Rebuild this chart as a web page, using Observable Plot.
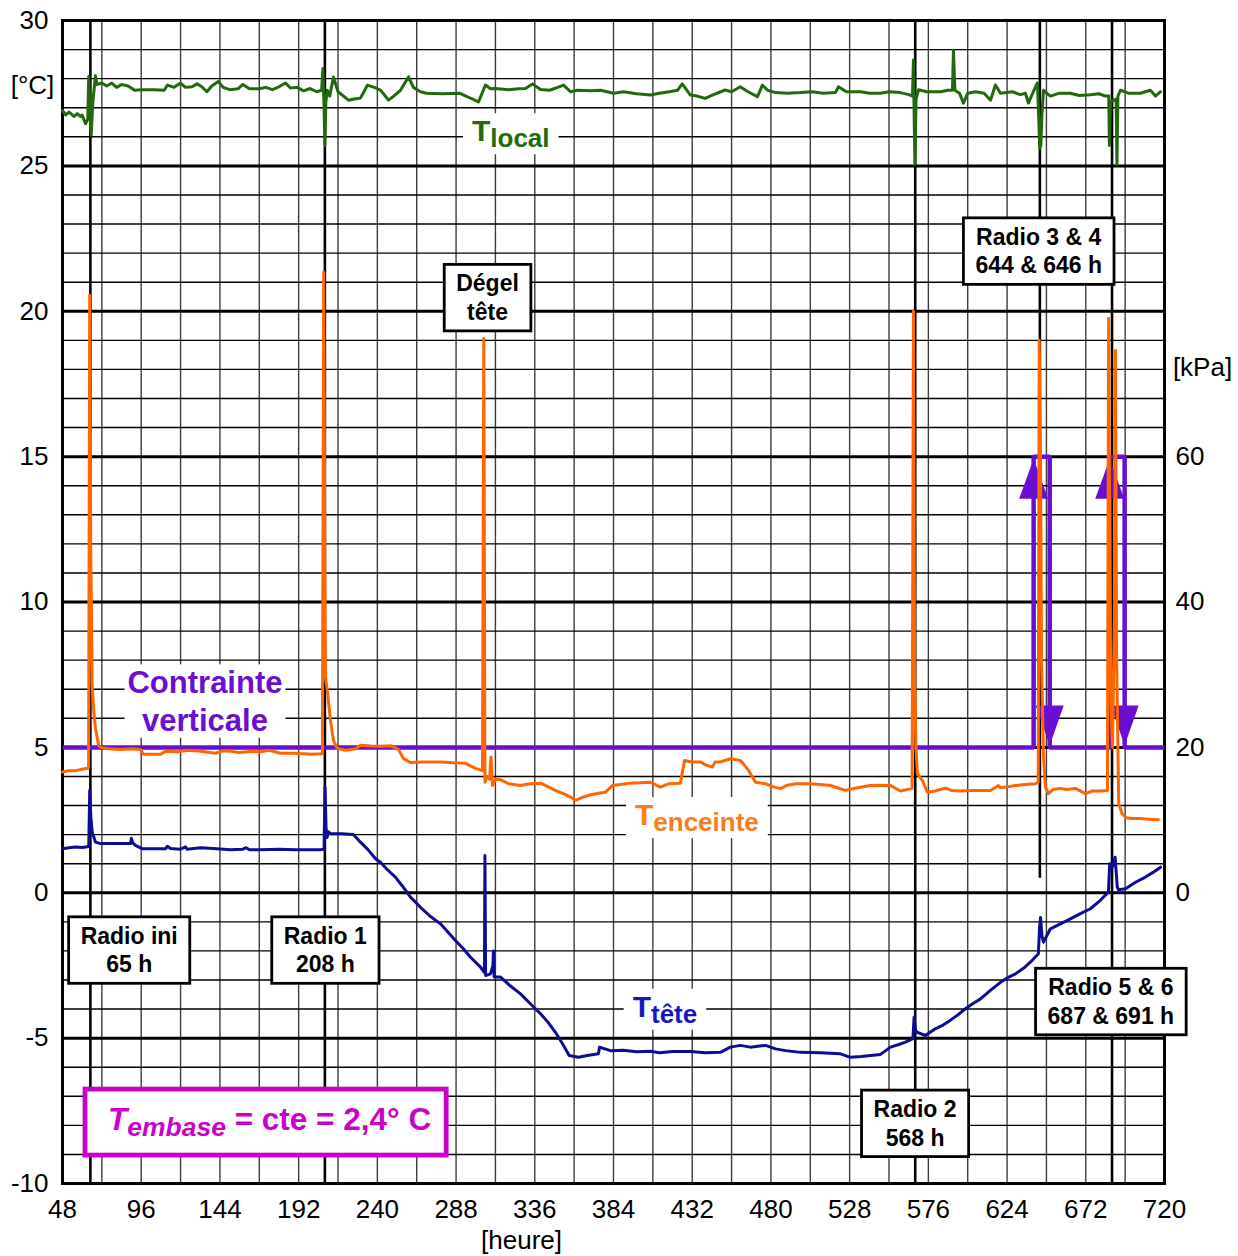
<!DOCTYPE html>
<html><head><meta charset="utf-8">
<script src="https://cdn.jsdelivr.net/npm/d3@7"></script>
<script src="https://cdn.jsdelivr.net/npm/@observablehq/plot@0.6"></script>
<style>html,body{margin:0;padding:0;background:#fff;overflow:hidden}</style>
</head><body><div id="chart"></div>
<script>
// ---------- DATA ----------
const xTicks = [48, 96, 144, 192, 240, 288, 336, 384, 432, 480, 528, 576, 624, 672, 720];
const yTicks = [-10, -5, 0, 5, 10, 15, 20, 25, 30];
const kPaTicks = [0, 20, 40, 60];

const eventHours = [65, 208, 568, 644, 688];
const eventLow = [-10, -10, -10, 0.5, -10];

const contrainteHours = [48, 640.2, 640.2, 650, 650, 686.6, 686.6, 695.7, 695.7, 720];
const contrainteKPa = [20, 20, 60, 60, 20, 20, 60, 60, 20, 20];
const arrowUpHours = [640.2, 686.6];
const arrowUpKPa = [60, 60];
const arrowDownHours = [650, 695.7];
const arrowDownKPa = [20, 20];

const tLocal = [[48,26.9],[50,26.75],[52,26.85],[55,26.7],[57,26.8],[59,26.7],[60,26.75],[62,26.45],[63.4,26.6],[64.0,28.07],[64.6,27.0],[65.5,26.06],[66.5,27.2],[68.1,28.1],[69,27.8],[72,27.85],[75,27.75],[78,27.85],[81,27.7],[84,27.8],[88,27.75],[92,27.6],[96,27.62],[104,27.62],[110,27.6],[112,27.78],[116,27.7],[120,27.85],[123,27.7],[127,27.72],[130,27.82],[133,27.72],[136,27.55],[139,27.75],[143,27.9],[146,27.7],[150,27.62],[155,27.65],[158,27.8],[162,27.65],[168,27.65],[172,27.7],[176,27.62],[180,27.72],[184,27.85],[187,27.68],[191,27.7],[195,27.58],[199,27.66],[203,27.55],[206,27.6],[206.8,28.35],[207.5,27.0],[208,25.7],[208.6,27.2],[209.5,27.6],[211,27.4],[213.2,28.06],[216,27.55],[222.4,27.26],[226,27.3],[229.7,27.33],[234,27.78],[238.9,27.68],[242,27.6],[246.8,27.26],[250,27.4],[254.1,27.6],[259,28.06],[262,27.7],[266.3,27.55],[270,27.5],[280,27.48],[290,27.5],[294,27.4],[298,27.3],[301.7,27.2],[305.9,27.78],[309,27.65],[312,27.66],[320,27.62],[326,27.65],[330.3,27.66],[334.6,27.82],[339.5,27.63],[345,27.6],[350,27.7],[353.5,27.78],[357.8,27.55],[362,27.6],[370,27.58],[376,27.6],[384,27.5],[390,27.55],[398,27.48],[406.5,27.44],[412,27.5],[418,27.55],[423,27.6],[425.9,27.82],[430.8,27.44],[435,27.4],[439.9,27.32],[445,27.45],[452.1,27.61],[456,27.55],[461.3,27.72],[466,27.55],[471.8,27.38],[474.8,27.78],[478,27.6],[482.8,27.52],[490,27.5],[498,27.52],[505,27.55],[512,27.5],[519.3,27.52],[521.2,27.72],[526,27.55],[534.6,27.55],[540,27.5],[546.8,27.5],[552,27.55],[559,27.52],[564,27.45],[566.3,27.4],[566.9,28.64],[567.4,26.5],[567.8,25.06],[568.5,27.3],[570,27.62],[575,27.55],[583.4,27.55],[588,27.6],[590.7,27.6],[591.3,28.98],[592.2,27.6],[595,27.5],[597.4,27.16],[600,27.5],[604.7,27.55],[610,27.5],[613.9,27.26],[616.9,27.78],[620,27.5],[627.3,27.55],[632,27.45],[635.2,27.5],[637,27.16],[640,27.55],[642.5,27.85],[643.4,26.5],[643.9,25.61],[644.6,25.7],[645.3,26.8],[646.2,27.6],[650.4,27.4],[656,27.5],[662.6,27.5],[668,27.42],[674.8,27.45],[680,27.48],[684,27.4],[686.0,27.4],[686.4,25.7],[687.0,27.2],[690.5,27.3],[691.0,25.05],[691.6,27.4],[693.1,27.6],[698,27.5],[705.3,27.5],[711.4,27.6],[714.5,27.4],[717.6,27.55]];

const tEnceinte = [[48,4.15],[52,4.2],[56,4.2],[60,4.25],[63.1,4.28],[63.9,4.3],[64.6,20.55],[65.2,12.0],[66.1,7.13],[67,6.3],[68.1,5.65],[70.1,5.07],[71.2,5.0],[76,4.95],[83.4,4.93],[90,4.95],[95.6,4.93],[97.4,4.76],[104,4.76],[107.8,4.76],[110.8,4.87],[118,4.85],[125,4.9],[132.1,4.87],[138,4.82],[141.3,4.8],[146,4.88],[150.4,4.87],[156,4.82],[162,4.86],[168.7,4.85],[174,4.9],[180.9,4.8],[188.9,4.8],[195,4.78],[200,4.76],[205.3,4.78],[206.5,4.8],[207.3,21.35],[208.1,9.5],[208.4,7.4],[209.6,6.9],[211.4,5.93],[213.2,5.24],[215.5,4.97],[220.6,4.9],[226.7,4.95],[229.7,5.07],[236,5.05],[241.9,5.04],[248,5.06],[252.9,4.93],[255.9,4.62],[260.2,4.48],[268,4.5],[278.5,4.5],[286,4.47],[293.7,4.45],[299.8,4.28],[304.1,4.2],[304.9,19.06],[305.6,3.8],[307,4.0],[308.4,3.9],[309.3,4.67],[310.2,3.69],[312,3.9],[315.1,3.89],[320,3.75],[327.3,3.69],[333,3.75],[339.5,3.77],[344,3.65],[348.6,3.52],[353,3.42],[357.8,3.29],[360.8,3.18],[365,3.28],[370,3.37],[375,3.42],[379.1,3.46],[383.4,3.69],[388,3.72],[394.3,3.77],[400,3.78],[406.5,3.8],[412.6,3.63],[418,3.75],[424.8,3.77],[427.3,4.55],[432,4.5],[437,4.5],[440,4.4],[444.3,4.32],[446,4.5],[449.2,4.5],[452,4.55],[455.3,4.61],[458,4.58],[461.3,4.55],[463,4.45],[466.3,4.21],[470.6,3.8],[476.7,3.75],[481,3.65],[485.8,3.58],[490,3.7],[495,3.75],[504.1,3.75],[510,3.72],[516.3,3.69],[520,3.62],[525.4,3.52],[532,3.6],[540.7,3.69],[546,3.7],[552.9,3.69],[559,3.5],[566.1,3.59],[566.9,20.0],[567.6,8.0],[568.3,5.2],[569.3,4.1],[572.4,3.86],[575.4,3.46],[580,3.5],[586.4,3.6],[590,3.52],[595.6,3.5],[603,3.52],[613.9,3.52],[618.7,3.69],[620,3.61],[625,3.65],[629.1,3.69],[635,3.72],[641.3,3.75],[643,3.8],[643.6,19.0],[644.4,15.0],[645,8.0],[646.2,4.67],[647.4,3.63],[649.2,3.41],[652,3.55],[656.5,3.59],[660,3.55],[665.7,3.59],[671.8,3.41],[676,3.5],[680.9,3.5],[685.2,3.52],[685.9,19.75],[686.6,12.0],[687.3,6.5],[688.3,5.0],[689.6,10.0],[690.1,18.65],[690.8,8.0],[692.1,3.06],[694.1,2.72],[696.8,2.58],[700,2.55],[705.3,2.55],[710,2.53],[716.3,2.51]];

const tTete = [[48,1.51],[52,1.55],[56,1.57],[60,1.56],[64,1.59],[64.6,3.52],[65.3,2.6],[66.1,2.09],[68.1,1.74],[71.2,1.69],[80,1.69],[89.5,1.69],[90,1.87],[90.8,1.72],[92.5,1.63],[96.8,1.51],[104,1.51],[110.8,1.51],[112,1.6],[113.9,1.52],[120,1.5],[123,1.58],[124,1.5],[132.1,1.55],[140,1.52],[150.4,1.48],[158,1.5],[160,1.55],[162,1.48],[168.7,1.48],[180,1.5],[190,1.48],[205.3,1.48],[207.5,1.5],[208.1,3.63],[208.7,2.26],[209.3,1.9],[210.2,2.1],[211.4,2.03],[218,2.03],[225.4,2.0],[229.7,1.74],[234,1.5],[238.9,1.17],[241.9,1.05],[246,0.8],[251,0.54],[255,0.25],[260.2,-0.15],[266.3,-0.5],[272,-0.8],[278.5,-1.07],[283,-1.35],[287.6,-1.64],[292,-1.9],[296.8,-2.22],[302.9,-2.56],[305.3,-2.75],[305.6,1.28],[306,-2.85],[309,-2.79],[310.5,-2.5],[310.8,-2.0],[311.2,-2.9],[315.1,-2.9],[321,-3.2],[327.3,-3.48],[333,-3.8],[339.5,-4.16],[344,-4.45],[348.6,-4.8],[353,-5.2],[357,-5.6],[362.6,-5.66],[368,-5.6],[374.8,-5.54],[375.5,-5.31],[382.1,-5.43],[390,-5.42],[398,-5.47],[406.5,-5.45],[412,-5.5],[420,-5.46],[430.8,-5.46],[440,-5.5],[449.2,-5.49],[455.3,-5.31],[461.3,-5.25],[467.5,-5.31],[472,-5.28],[476.7,-5.25],[482.8,-5.37],[488.9,-5.43],[498,-5.49],[510,-5.5],[522.4,-5.54],[528.5,-5.66],[535,-5.63],[546.8,-5.56],[552.9,-5.31],[558,-5.22],[562,-5.14],[566.6,-5.02],[567.3,-4.28],[568.2,-4.74],[569.3,-4.8],[574.2,-4.91],[580.2,-4.68],[585,-4.55],[589.3,-4.39],[594,-4.2],[598.6,-3.99],[603,-3.82],[607.8,-3.65],[614,-3.35],[620,-3.08],[625,-2.9],[629.1,-2.79],[634,-2.6],[638.2,-2.39],[643.1,-2.1],[643.8,-1.2],[644.4,-0.85],[645.3,-1.5],[646.2,-1.7],[650.4,-1.24],[656.5,-1.07],[662.6,-0.9],[668.7,-0.72],[674.8,-0.55],[680.9,-0.26],[685.8,0.02],[686.6,1.0],[688.2,0.88],[689.9,1.22],[691.2,0.19],[692,0.1],[696.2,0.14],[702.3,0.36],[708.4,0.54],[713,0.7],[717.6,0.88]];

const seriesNames = [["T", "local"], ["T", "enceinte"], ["T", "tête"]];
const contrainteText = ["Contrainte", "verticale"];
const embaseText = ["T", "embase", " = cte = 2,4° C"];
const boxTexts = [["Radio ini", "65 h"], ["Radio 1", "208 h"], ["Dégel", "tête"], ["Radio 3 & 4", "644 & 646 h"], ["Radio 5 & 6", "687 & 691 h"], ["Radio 2", "568 h"]];
const axisTitles = ["[°C]", "[kPa]", "[heure]"];

// ---------- LAYOUT / STYLE ----------
const C = {green: "#22690e", orange: "#ff6600", orangeText: "#f97d1c", blue: "#0c0c96", blueText: "#1717c0", purple: "#6a0fd2", magenta: "#cc00cc"};
const seriesLabelPos = [{h: 298, t: 25.83, color: C.green}, {h: 397.4, t: 2.31, color: C.orangeText}, {h: 396, t: -4.28, color: C.blueText}];
const contraintePos = {h: 135.2, t: 6.84};
const embasePos = {h: 76.05, t: -8.18};
const boxPos = [{h: 88.98, t: -1.98}, {h: 208.56, t: -1.98}, {h: 307.5, t: 20.46}, {h: 643.6, t: 22.06}, {h: 687.6, t: -3.75}, {h: 568.2, t: -7.94}];

const upSymbol = {draw(ctx) { ctx.moveTo(0, 2); ctx.lineTo(14.5, 42); ctx.lineTo(-14.5, 42); ctx.closePath(); }};
const downSymbol = {draw(ctx) { ctx.moveTo(0, -2); ctx.lineTo(14, -42); ctx.lineTo(-14, -42); ctx.closePath(); }};

const contrainte = contrainteHours.map((h, i) => ({h, t: contrainteKPa[i] / 4}));
const ups = arrowUpHours.map((h, i) => ({h, t: arrowUpKPa[i] / 4}));
const downs = arrowDownHours.map((h, i) => ({h, t: arrowDownKPa[i] / 4}));
const events = eventHours.map((h, i) => ({h, low: eventLow[i]}));
const gridX = d3.range(48, 721, 24);
const gridYMinor = d3.range(-10, 31).filter(d => d % 5 !== 0);
const gridYMajor = yTicks;

function seriesLabelsMark(index, scales) {
  const g = d3.create("svg:g");
  seriesNames.forEach((n, i) => {
    const p = seriesLabelPos[i];
    const lg = g.append("g").attr("data-pad", "9,9,1,1");
    lg.append("rect").attr("fill", "white");
    const t = lg.append("text").attr("x", scales.x(p.h)).attr("y", scales.y(p.t))
      .attr("text-anchor", "start").attr("fill", p.color).attr("font-weight", "bold");
    t.append("tspan").attr("font-size", 30).text(n[0]);
    t.append("tspan").attr("font-size", 26).attr("dy", 6).text(n[1]);
  });
  const cg = g.append("g").attr("data-pad", "3,3,1,0");
  cg.append("rect").attr("fill", "white");
  const ct = cg.append("text").attr("text-anchor", "middle").attr("fill", C.purple)
    .attr("font-weight", "bold").attr("font-size", 31);
  contrainteText.forEach((l, i) => ct.append("tspan").attr("x", scales.x(contraintePos.h))
    .attr("y", scales.y(contraintePos.t) + i * 37.4).text(l));
  return g.node();
}

function boxesMark(index, scales) {
  const g = d3.create("svg:g");
  boxTexts.forEach((lines, i) => {
    const p = boxPos[i];
    const cx = scales.x(p.h), cy = scales.y(p.t);
    const bg = g.append("g").attr("data-pad", "12,12,6,6");
    bg.append("rect").attr("fill", "white").attr("stroke", "black").attr("stroke-width", 2.8);
    const t = bg.append("text").attr("text-anchor", "middle").attr("font-weight", "bold").attr("font-size", 23).attr("fill", "black");
    lines.forEach((l, j) => t.append("tspan").attr("x", cx).attr("y", cy - 6 + j * 28.5).text(l));
  });
  const eg = g.append("g").attr("data-pad", "23,15,12,13");
  eg.append("rect").attr("fill", "white").attr("stroke", C.magenta).attr("stroke-width", 4.8);
  const et = eg.append("text").attr("x", scales.x(embasePos.h)).attr("y", scales.y(embasePos.t))
    .attr("text-anchor", "start").attr("fill", C.magenta).attr("font-weight", "bold").style("white-space", "pre");
  et.append("tspan").attr("font-size", 31.5).attr("font-style", "italic").text(embaseText[0]);
  et.append("tspan").attr("font-size", 26.5).attr("font-style", "italic").attr("dy", 6).text(embaseText[1]);
  et.append("tspan").attr("font-size", 31.5).attr("dy", -6).text(embaseText[2]);
  return g.node();
}

const chart = Plot.plot({
  width: 1238, height: 1256,
  marginLeft: 62, marginRight: 74, marginTop: 20, marginBottom: 73,
  style: {fontFamily: "'Liberation Sans', Arial, Helvetica, sans-serif", background: "white", color: "black"},
  x: {domain: [48, 720]},
  y: {domain: [-10, 30]},
  marks: [
    Plot.ruleX(gridX, {stroke: "#3c3c3c", strokeWidth: 1.4}),
    Plot.ruleY(gridYMinor, {stroke: "black", strokeWidth: 1.4}),
    Plot.ruleY(gridYMajor, {stroke: "black", strokeWidth: 3}),
    Plot.frame({stroke: "black", strokeWidth: 3}),
    Plot.ruleX(events, {x: "h", y1: "low", y2: 30, stroke: "black", strokeWidth: 2.6}),
    seriesLabelsMark,
    Plot.line(contrainte, {x: "h", y: "t", stroke: C.purple, strokeWidth: 4.5, strokeLinejoin: "miter", strokeLinecap: "butt"}),
    Plot.dot(ups, {x: "h", y: "t", symbol: upSymbol, r: 10, fill: C.purple, stroke: null}),
    Plot.dot(downs, {x: "h", y: "t", symbol: downSymbol, r: 10, fill: C.purple, stroke: null}),
    Plot.line(tEnceinte, {x: d => d[0], y: d => d[1], stroke: C.orange, strokeWidth: 3, strokeLinejoin: "round"}),
    Plot.line(tTete, {x: d => d[0], y: d => d[1], stroke: C.blue, strokeWidth: 3, strokeLinejoin: "round"}),
    Plot.line(tLocal, {x: d => d[0], y: d => d[1], stroke: C.green, strokeWidth: 3, strokeLinejoin: "round"}),
    boxesMark,
    Plot.axisX({ticks: xTicks, tickSize: 0, tickPadding: 16, fontSize: 26, label: null, tickFormat: d => String(d)}),
    Plot.axisY({ticks: yTicks, tickSize: 0, tickPadding: 14, fontSize: 26, label: null, tickFormat: d => String(d)}),
    Plot.axisY({anchor: "right", ticks: kPaTicks.map(k => k / 4), tickSize: 0, tickPadding: 11, fontSize: 26, label: null, tickFormat: d => String(d * 4)}),
    Plot.text([axisTitles[0]], {frameAnchor: "top-left", textAnchor: "middle", lineAnchor: "middle", dx: -30, dy: 65, fontSize: 26, text: d => d}),
    Plot.text([axisTitles[1]], {frameAnchor: "top-right", textAnchor: "middle", lineAnchor: "middle", dx: 38, dy: 347, fontSize: 26, text: d => d}),
    Plot.text([axisTitles[2]], {frameAnchor: "bottom-left", textAnchor: "middle", lineAnchor: "middle", dx: 459, dy: 57, fontSize: 26, text: d => d})
  ]
});
document.getElementById("chart").append(chart);

// fit rectangles behind labels
chart.querySelectorAll("g[data-pad]").forEach(g => {
  const text = g.querySelector("text"), rect = g.querySelector("rect");
  const [pl, pr, pt, pb] = g.getAttribute("data-pad").split(",").map(Number);
  const bb = text.getBBox();
  rect.setAttribute("x", bb.x - pl);
  rect.setAttribute("y", bb.y - pt);
  rect.setAttribute("width", bb.width + pl + pr);
  rect.setAttribute("height", bb.height + pt + pb);
});
</script></body></html>
